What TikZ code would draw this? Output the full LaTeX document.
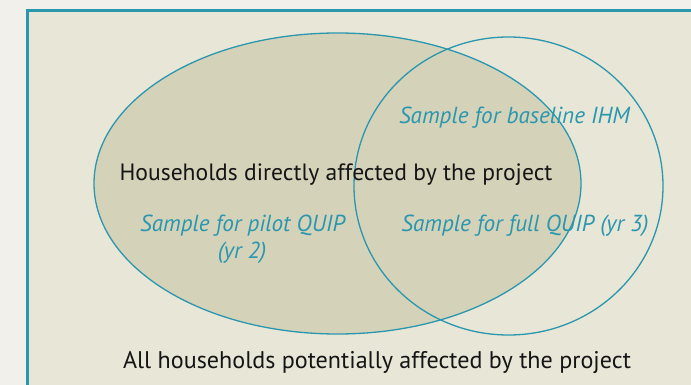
\documentclass[tikz,border=0pt]{standalone}
\usepackage{fontspec}
\setmainfont{PT Sans}
\definecolor{outerbg}{HTML}{F2F0EA}
\definecolor{innerbg}{HTML}{E8E6D7}
\definecolor{ellfill}{HTML}{D4D2B9}
\definecolor{teal}{HTML}{2A97AE}
\definecolor{ink}{HTML}{151515}
\tikzset{
  outline/.style={draw=teal, line width=1.3pt},
  maintext/.style={text=ink, font=\fontsize{23.6}{26}\selectfont, inner sep=0pt, anchor=base},
  bottomtext/.style={text=ink, font=\fontsize{24.1}{26}\selectfont, inner sep=0pt, anchor=base},
  sampletext/.style={text=teal, font=\fontsize{23.2}{26}\selectfont\itshape, inner sep=0pt, anchor=base, align=center},
}
\begin{document}
\begin{tikzpicture}[x=1pt,y=-1pt]
\useasboundingbox (0,0) rectangle (691,385);
\fill[outerbg] (0,0) rectangle (691,385);
\clip (0,0) rectangle (691,385);
\draw[draw=teal, fill=innerbg, line width=3pt] (27.5,11) rectangle (720,420);
\path[fill=ellfill] (337.5,183.5) ellipse [x radius=243.5pt, y radius=150.5pt];
\draw[outline] (337.5,183.5) ellipse [x radius=243.5pt, y radius=150.5pt];
\draw[outline] (508.5,186) ellipse [x radius=154.5pt, y radius=149pt];
\node[maintext] (direct) at (336,180.5) {Households directly affected by the project};
\node[bottomtext] (all) at (377,368) {All households potentially affected by the project};
\node[sampletext] (baseline) at (514.5,124) {Sample for baseline IHM};
\node[sampletext] (pilot) at (242.5,231.7) {Sample for pilot QUIP};
\node[sampletext] (pilot2) at (242,258) {(yr 2)};
\node[sampletext] (full) at (525,231.7) {Sample for full QUIP (yr 3)};
\end{tikzpicture}
\end{document}
